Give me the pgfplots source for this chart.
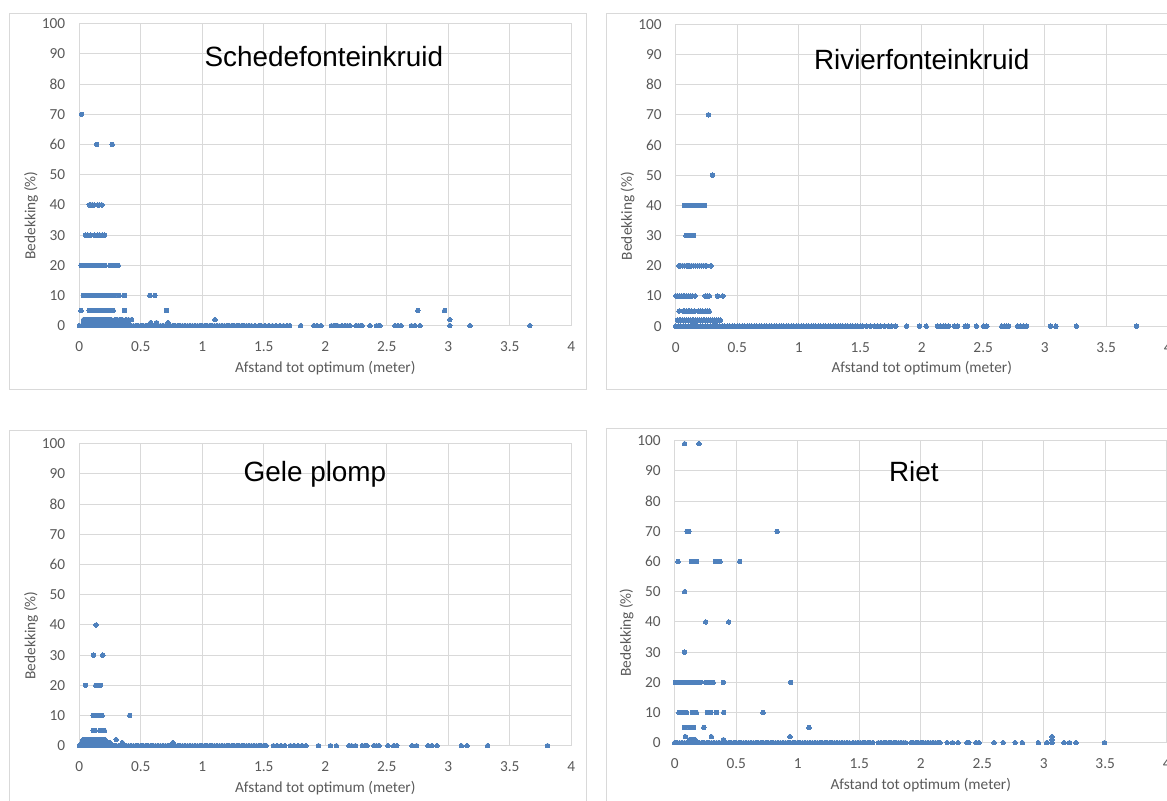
\documentclass[border=0pt]{standalone}
\usepackage{pgfplots}
\usepackage{pgfplotstable}
\pgfplotsset{compat=1.18}
\usepackage{fontspec}
\setmainfont{Carlito}
\newfontfamily\titlefont{Liberation Sans}
\definecolor{ptblue}{HTML}{4F81BD}
\definecolor{gridgray}{HTML}{D9D9D9}
\definecolor{txtgray}{HTML}{595959}

% dense run of points at 0 % cover near the optimum (shared by all panels up to 1.40 m)
\pgfplotstableread{
x y
0 0
0.02 0
0.04 0
0.06 0
0.08 0
0.10 0
0.12 0
0.14 0
0.16 0
0.18 0
0.20 0
0.22 0
0.24 0
0.26 0
0.28 0
0.30 0
0.32 0
0.34 0
0.36 0
0.38 0
0.40 0
0.42 0
0.44 0
0.46 0
0.48 0
0.50 0
0.52 0
0.54 0
0.56 0
0.58 0
0.60 0
0.62 0
0.64 0
0.66 0
0.68 0
0.70 0
0.72 0
0.74 0
0.76 0
0.78 0
0.80 0
0.82 0
0.84 0
0.86 0
0.88 0
0.90 0
0.92 0
0.94 0
0.96 0
0.98 0
1.00 0
1.02 0
1.04 0
1.06 0
1.08 0
1.10 0
1.12 0
1.14 0
1.16 0
1.18 0
1.20 0
1.22 0
1.24 0
1.26 0
1.28 0
1.30 0
1.32 0
1.34 0
1.36 0
1.38 0
1.40 0
}\densezero

\pgfplotsset{
  panel/.style={
    scale only axis, width=369pt, height=226.5pt, anchor=south west,
    xmin=0, xmax=4, ymin=0, ymax=100,
    xtick={0,0.5,...,4}, ytick={0,10,...,100},
    grid=major, major grid style={gridgray, line width=0.75pt},
    axis line style={gridgray, line width=0.75pt},
    tick style={draw=none},
    /pgf/number format/assume math mode=true,
    ticklabel style={font=\fontsize{11.5}{13}\selectfont, text=txtgray},
    yticklabel style={xshift=-7pt},
    xticklabel style={yshift=-8.5pt},
    label style={font=\fontsize{11.5}{13}\selectfont, text=txtgray},
    xlabel={Afstand tot optimum (meter)},
    ylabel={Bedekking (\%)},
    x label style={at={(axis description cs:0.5,-0.139)}, anchor=center},
    y label style={at={(axis description cs:-0.098,0.365)}, anchor=center},
    title style={font=\titlefont\fontsize{20.9}{24}\selectfont, anchor=center, text=black, yshift=-6pt},
    clip=false,
    every axis plot post/.append style={only marks, mark=*, mark size=1.7pt, color=ptblue,
      mark options={fill=ptblue, draw=ptblue, line width=0pt, solid}},
  }
}

\begin{document}
\begin{tikzpicture}
\useasboundingbox (0pt,0pt) rectangle (875.25pt,600pt);
\begin{scope}
\clip (0pt,0pt) rectangle (875.25pt,600pt);

% panel frames
\draw[gridgray, line width=0.75pt] (7.2pt,307.5pt) rectangle (439.5pt,589.5pt);
\draw[gridgray, line width=0.75pt] (454.5pt,307.5pt) rectangle (886.8pt,590pt);
\draw[gridgray, line width=0.75pt] (7.2pt,-5pt) rectangle (439.5pt,277pt);
\draw[gridgray, line width=0.75pt] (454.5pt,-5pt) rectangle (886.5pt,278.8pt);

% ---------- Schedefonteinkruid ----------
\begin{axis}[panel, at={(59.475pt,355.725pt)}, title={Schedefonteinkruid},
  title style={at={(axis description cs:0.497,0.891)}}]
\addplot table {\densezero};
\addplot coordinates {(1.43,0)(1.46,0)(1.48,0)(1.51,0)(1.54,0)(1.57,0)(1.60,0)(1.63,0)(1.66,0)(1.69,0)(1.71,0)(1.80,0)(1.906,0)(1.933,0)(1.966,0)(2.05,0)(2.07,0)(2.09,0)(2.10,0)(2.136,0)(2.163,0)(2.18,0)(2.20,0)(2.25,0)(2.27,0)(2.29,0)(2.30,0)(2.363,0)(2.417,0)(2.435,0)(2.444,0)(2.566,0)(2.59,0)(2.615,0)(2.70,0)(2.73,0)(2.77,0)(3.012,0)(3.177,0)(3.663,0)};
\addplot coordinates {(0.04,1)(0.06,1)(0.08,1)(0.10,1)(0.12,1)(0.14,1)(0.16,1)(0.18,1)(0.20,1)(0.22,1)(0.24,1)(0.26,1)(0.28,1)(0.30,1)(0.32,1)(0.34,1)(0.36,1)(0.38,1)(0.40,1)(0.58,1)(0.628,1)(0.722,1)};
\addplot coordinates {(0.035,2)(0.05,2)(0.065,2)(0.08,2)(0.095,2)(0.11,2)(0.125,2)(0.14,2)(0.155,2)(0.17,2)(0.185,2)(0.20,2)(0.215,2)(0.23,2)(0.245,2)(0.26,2)(0.29,2)(0.31,2)(0.33,2)(0.35,2)(0.38,2)(0.40,2)(0.425,2)(1.103,2)(3.012,2)};
\addplot coordinates {(0.014,5)(0.081,5)(0.095,5)(0.11,5)(0.122,5)(0.135,5)(0.168,5)(0.18,5)(0.195,5)(0.21,5)(0.225,5)(0.24,5)(0.255,5)(0.276,5)(0.368,5)(0.709,5)(2.752,5)(2.97,5)};
\addplot coordinates {(0.033,10)(0.045,10)(0.06,10)(0.075,10)(0.09,10)(0.105,10)(0.12,10)(0.135,10)(0.15,10)(0.165,10)(0.187,10)(0.208,10)(0.22,10)(0.235,10)(0.25,10)(0.265,10)(0.28,10)(0.29,10)(0.325,10)(0.368,10)(0.573,10)(0.614,10)};
\addplot coordinates {(0.014,20)(0.025,20)(0.04,20)(0.055,20)(0.07,20)(0.085,20)(0.10,20)(0.115,20)(0.13,20)(0.145,20)(0.16,20)(0.175,20)(0.19,20)(0.21,20)(0.25,20)(0.265,20)(0.28,20)(0.30,20)(0.316,20)};
\addplot coordinates {(0.049,30)(0.07,30)(0.092,30)(0.125,30)(0.149,30)(0.168,30)(0.185,30)(0.206,30)(0.081,40)(0.095,40)(0.108,40)(0.122,40)(0.149,40)(0.165,40)(0.184,40)(0.141,60)(0.268,60)(0.019,70)};
\end{axis}

% ---------- Rivierfonteinkruid ----------
\begin{axis}[panel, at={(506.775pt,355.35pt)}, title={Rivierfonteinkruid},
  title style={at={(axis description cs:0.50,0.884)}}]
\addplot table {\densezero};
\addplot coordinates {(1.42,0)(1.44,0)(1.46,0)(1.48,0)(1.50,0)(1.517,0)(1.552,0)(1.585,0)(1.617,0)(1.644,0)(1.666,0)(1.699,0)(1.729,0)(1.756,0)(1.789,0)(1.878,0)(1.982,0)(2.036,0)(2.129,0)(2.15,0)(2.175,0)(2.197,0)(2.218,0)(2.264,0)(2.292,0)(2.352,0)(2.374,0)(2.444,0)(2.504,0)(2.529,0)(2.651,0)(2.67,0)(2.69,0)(2.705,0)(2.78,0)(2.80,0)(2.83,0)(2.852,0)(3.047,0)(3.091,0)(3.257,0)(3.746,0)};
\addplot coordinates {(0.013,2)(0.028,2)(0.043,2)(0.058,2)(0.073,2)(0.088,2)(0.103,2)(0.118,2)(0.133,2)(0.148,2)(0.163,2)(0.178,2)(0.193,2)(0.208,2)(0.223,2)(0.238,2)(0.253,2)(0.268,2)(0.283,2)(0.30,2)(0.315,2)(0.33,2)(0.345,2)(0.362,2)(0.15,1)(0.32,1)};
\addplot coordinates {(0.027,5)(0.062,5)(0.075,5)(0.088,5)(0.10,5)(0.115,5)(0.13,5)(0.15,5)(0.184,5)(0.20,5)(0.215,5)(0.24,5)(0.255,5)(0.272,5)};
\addplot coordinates {(0.002,10)(0.015,10)(0.03,10)(0.045,10)(0.06,10)(0.075,10)(0.09,10)(0.105,10)(0.12,10)(0.135,10)(0.157,10)(0.24,10)(0.255,10)(0.272,10)(0.34,10)(0.383,10)};
\addplot coordinates {(0.027,20)(0.04,20)(0.055,20)(0.07,20)(0.085,20)(0.10,20)(0.115,20)(0.13,20)(0.145,20)(0.16,20)(0.18,20)(0.195,20)(0.21,20)(0.225,20)(0.24,20)(0.252,20)(0.288,20)};
\addplot coordinates {(0.084,30)(0.096,30)(0.108,30)(0.144,30)(0.07,40)(0.08,40)(0.09,40)(0.10,40)(0.11,40)(0.12,40)(0.138,40)(0.166,40)(0.198,40)(0.234,40)(0.299,50)(0.266,70)};
\end{axis}

% ---------- Gele plomp ----------
\begin{axis}[panel, at={(59.475pt,40.725pt)}, title={Gele plomp},
  title style={at={(axis description cs:0.479,0.90)}}]
\addplot table {\densezero};
\addplot coordinates {(1.42,0)(1.44,0)(1.46,0)(1.48,0)(1.50,0)(1.52,0)(1.578,0)(1.609,0)(1.64,0)(1.671,0)(1.717,0)(1.748,0)(1.78,0)(1.81,0)(1.842,0)(1.944,0)(2.043,0)(2.09,0)(2.193,0)(2.214,0)(2.245,0)(2.301,0)(2.323,0)(2.339,0)(2.394,0)(2.416,0)(2.438,0)(2.509,0)(2.556,0)(2.581,0)(2.705,0)(2.742,0)(2.835,0)(2.866,0)(2.907,0)(3.106,0)(3.152,0)(3.32,0)(3.807,0)};
\addplot coordinates {(0.02,1)(0.035,1)(0.05,1)(0.065,1)(0.08,1)(0.095,1)(0.11,1)(0.125,1)(0.14,1)(0.155,1)(0.17,1)(0.185,1)(0.20,1)(0.215,1)(0.23,1)(0.25,1)(0.35,1)(0.76,1)};
\addplot coordinates {(0.03,2)(0.042,2)(0.054,2)(0.066,2)(0.078,2)(0.09,2)(0.102,2)(0.114,2)(0.126,2)(0.138,2)(0.15,2)(0.162,2)(0.174,2)(0.186,2)(0.198,2)(0.21,2)(0.30,2)};
\addplot coordinates {(0.113,5)(0.13,5)(0.168,5)(0.185,5)(0.204,5)(0.113,10)(0.125,10)(0.14,10)(0.16,10)(0.172,10)(0.185,10)(0.41,10)(0.05,20)(0.134,20)(0.15,20)(0.172,20)(0.116,30)(0.191,30)(0.137,40)};
\end{axis}

% ---------- Riet ----------
\begin{axis}[panel, at={(506.025pt,42.975pt)}, title={Riet},
  title style={at={(axis description cs:0.486,0.897)}}]
\addplot table {\densezero};
\addplot coordinates {(1.42,0)(1.45,0)(1.47,0)(1.49,0)(1.51,0)(1.53,0)(1.55,0)(1.57,0)(1.59,0)(1.61,0)(1.656,0)(1.68,0)(1.70,0)(1.72,0)(1.74,0)(1.76,0)(1.78,0)(1.80,0)(1.82,0)(1.84,0)(1.86,0)(1.876,0)(1.92,0)(1.94,0)(1.96,0)(1.98,0)(2.00,0)(2.02,0)(2.04,0)(2.06,0)(2.08,0)(2.10,0)(2.12,0)(2.14,0)(2.156,0)(2.215,0)(2.259,0)(2.303,0)(2.376,0)(2.391,0)(2.45,0)(2.474,0)(2.597,0)(2.671,0)(2.768,0)(2.826,0)(2.956,0)(3.024,0)(3.068,0)(3.165,0)(3.209,0)(3.262,0)(3.494,0)};
\addplot coordinates {(0.12,1)(0.135,1)(0.15,1)(0.166,1)(0.396,1)(3.068,1)(0.087,2)(0.298,2)(0.937,2)(3.068,2)};
\addplot coordinates {(0.079,5)(0.117,5)(0.13,5)(0.142,5)(0.154,5)(0.236,5)(1.092,5)};
\addplot coordinates {(0.035,10)(0.05,10)(0.065,10)(0.08,10)(0.095,10)(0.144,10)(0.16,10)(0.176,10)(0.265,10)(0.28,10)(0.293,10)(0.339,10)(0.398,10)(0.718,10)};
\addplot coordinates {(0.005,20)(0.02,20)(0.035,20)(0.05,20)(0.065,20)(0.08,20)(0.095,20)(0.11,20)(0.125,20)(0.14,20)(0.163,20)(0.195,20)(0.209,20)(0.252,20)(0.268,20)(0.285,20)(0.30,20)(0.312,20)(0.395,20)(0.943,20)};
\addplot coordinates {(0.079,30)(0.252,40)(0.439,40)(0.081,50)(0.027,60)(0.135,60)(0.15,60)(0.165,60)(0.179,60)(0.33,60)(0.345,60)(0.368,60)(0.528,60)(0.10,70)(0.116,70)(0.832,70)(0.081,99)(0.197,99)};
\end{axis}
\end{scope}
\end{tikzpicture}
\end{document}
